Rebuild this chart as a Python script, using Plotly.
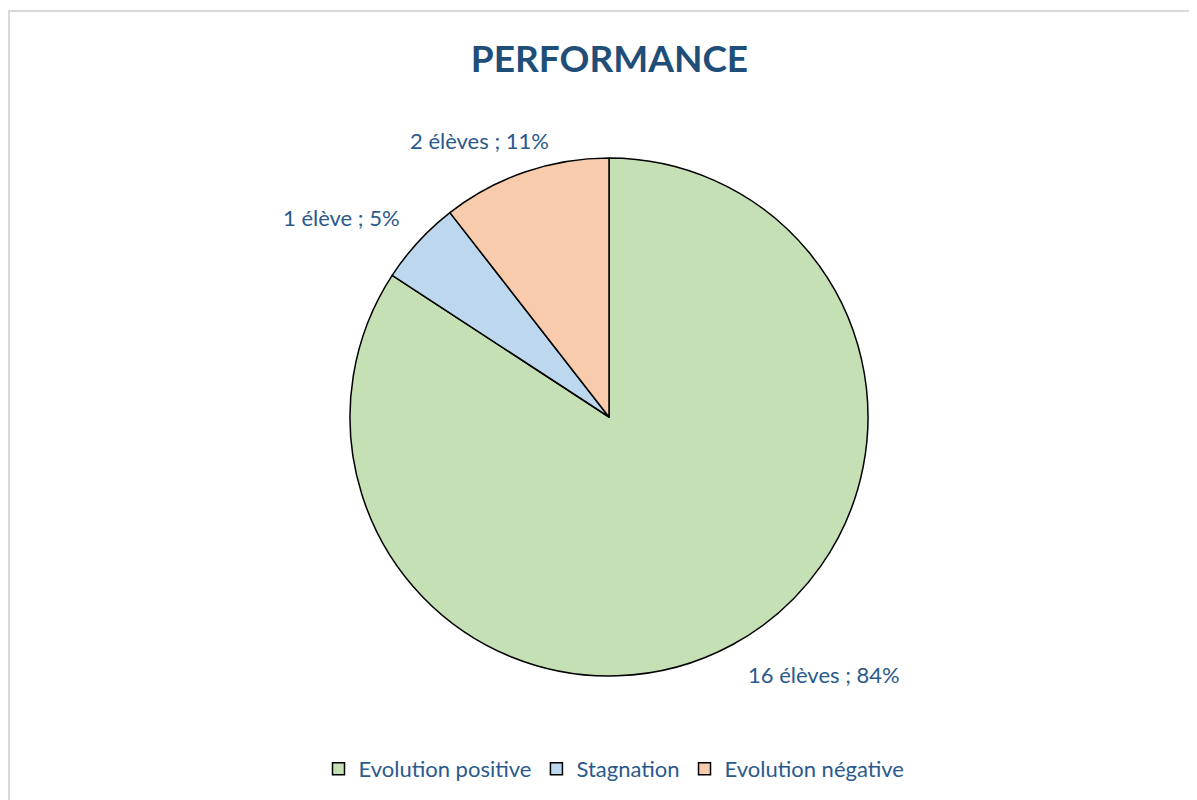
import plotly.graph_objects as go

categories = ["Evolution positive", "Stagnation", "Evolution négative"]
eleves = [16, 1, 2]
label_texts = ["16 élèves ; 84%", "1 élève ; 5%", "2 élèves ; 11%"]
colors = ["#C5E0B4", "#BDD7EE", "#F8CBAD"]

W, H = 1197, 800
OFF = 8  # default page body margin
FONT = "Lato"
TXT = "#2A5A8C"


def px(x):
    return (x - OFF) / W


def py(y):
    return 1 - (y - OFF) / H


fig = go.Figure()
fig.add_trace(go.Pie(
    labels=categories,
    values=eleves,
    sort=False,
    direction="clockwise",
    rotation=0,
    marker=dict(colors=colors, line=dict(color="#000000", width=1.5)),
    textinfo="none",
    hoverinfo="label+value+percent",
    domain=dict(x=[px(350), px(868)], y=[py(676), py(158)]),
))

# data labels (positions in figure coordinates)
label_pos = [(px(823.5), py(674)), (px(341), py(218)), (px(479), py(140))]
for txt, (lx, ly) in zip(label_texts, label_pos):
    fig.add_annotation(x=lx, y=ly, xref="paper", yref="paper", text=txt,
                       showarrow=False, xanchor="center", yanchor="middle",
                       font=dict(family=FONT, size=22, color=TXT))

fig.update_layout(
    width=W, height=H,
    margin=dict(l=0, r=0, t=0, b=0),
    paper_bgcolor="white",
    plot_bgcolor="white",
    title=dict(text="<b>PERFORMANCE</b>", x=px(609.5), xanchor="center",
               y=py(59), yanchor="middle",
               font=dict(family=FONT, size=37, color="#1F4E79")),
    showlegend=True,
    legend=dict(orientation="h", x=px(614), xanchor="center", y=py(769), yanchor="middle",
                font=dict(family=FONT, size=22, color=TXT), itemwidth=30,
                traceorder="normal"),
    shapes=[dict(type="rect", xref="paper", yref="paper",
                 x0=px(9), x1=1.05, y0=-0.05, y1=py(11),
                 line=dict(color="#D9D9D9", width=2), fillcolor="rgba(0,0,0,0)", layer="below")],
)

fig.write_html("out.html")
